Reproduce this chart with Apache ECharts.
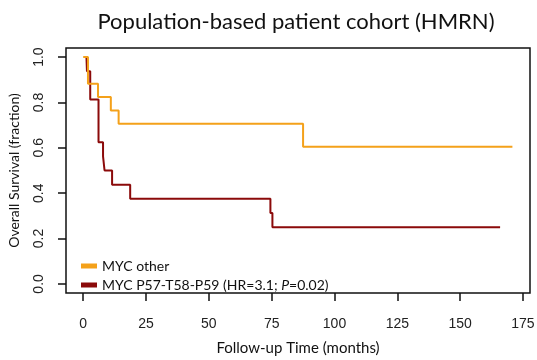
<!DOCTYPE html>
<html>
<head>
<meta charset="utf-8">
<script src="https://cdn.jsdelivr.net/npm/echarts@6/dist/echarts.min.js"></script>
<style>html,body{margin:0;padding:0;background:#fff;}#c{width:537px;height:360px;}</style>
</head>
<body>
<div id="c"></div>
<script>
var titleText = 'Population-based patient cohort (HMRN)';
var xName = 'Follow-up Time (months)';
var yName = 'Overall Survival (fraction)';
var xTicks = [0, 25, 50, 75, 100, 125, 150, 175];
var yTicks = [0, 0.2, 0.4, 0.6, 0.8, 1.0];

var otherTimes = [0, 1.9, 5.9, 11.0, 14.1, 87.5, 170.8];
var otherSurv  = [1.0, 0.882, 0.824, 0.765, 0.706, 0.605, 0.605];

var mutTimes = [1.3, 1.5, 2.8, 6.1, 7.9, 8.5, 11.5, 18.7, 74.5, 75.3, 165.9];
var mutSurv  = [1.0, 0.9375, 0.8125, 0.625, 0.5625, 0.5, 0.4375, 0.375, 0.3125, 0.25, 0.25];

var otherName = 'MYC other';
var mutName = 'MYC P57-T58-P59';

function pairs(t, v) { return t.map(function (x, i) { return [x, v[i]]; }); }

var chart = echarts.init(document.getElementById('c'), null, { renderer: 'canvas' });
var fontAx = '"Liberation Sans", Arial, sans-serif';
var fontTx = 'Lato, "Open Sans", sans-serif';
chart.setOption({
  animation: false,
  backgroundColor: '#fff',
  title: {
    text: titleText, left: 291, top: 6, textAlign: 'center',
    textStyle: { fontFamily: fontTx, fontSize: 22, fontWeight: 'normal', color: '#111' }
  },
  grid: { left: 66, right: 7, top: 48, bottom: 67, show: true, borderColor: '#111', borderWidth: 1.5,
          backgroundColor: 'transparent', containLabel: false, outerBoundsMode: 'none' },
  legend: {
    orient: 'vertical', left: 76, top: 254, itemWidth: 16, itemHeight: 5, itemGap: 5,
    icon: 'rect',
    data: [otherName, mutName],
    formatter: function (n) {
      return n === mutName ? '{n|' + n + ' (HR=3.1; }{i|P}{n|=0.02)}' : '{n|' + n + '}';
    },
    textStyle: {
      fontFamily: fontTx, fontSize: 14, color: '#111',
      rich: {
        n: { fontFamily: fontTx, fontSize: 14, color: '#111' },
        i: { fontFamily: fontTx, fontSize: 14, fontStyle: 'italic', color: '#111' }
      }
    }
  },
  xAxis: {
    type: 'value', min: -6.84, max: 177.8,
    name: xName, nameLocation: 'middle', nameGap: 48,
    nameTextStyle: { fontFamily: fontTx, fontSize: 15, color: '#111' },
    axisLine: { show: false, onZero: false },
    splitLine: { show: false },
    axisTick: { show: true, inside: false, length: 8, customValues: xTicks, lineStyle: { color: '#111', width: 1.5 } },
    axisLabel: { customValues: xTicks, margin: 24, fontFamily: fontAx, fontSize: 14, color: '#222' }
  },
  yAxis: {
    type: 'value', min: -0.04, max: 1.04,
    name: yName, nameLocation: 'middle', nameGap: 45, nameRotate: 90,
    nameTextStyle: { fontFamily: fontTx, fontSize: 14, color: '#111' },
    axisLine: { show: false, onZero: false },
    splitLine: { show: false },
    axisTick: { show: true, inside: false, length: 8, customValues: yTicks, lineStyle: { color: '#111', width: 1.5 } },
    axisLabel: {
      customValues: yTicks, rotate: 90, margin: 20, fontFamily: fontAx, fontSize: 14, color: '#222',
      formatter: function (v) { return v.toFixed(1); }
    }
  },
  series: [
    {
      name: mutName, type: 'line', step: 'end', showSymbol: false, symbol: 'none',
      data: pairs(mutTimes, mutSurv), color: '#8B0A0A',
      lineStyle: { color: '#8B0A0A', width: 2 }
    },
    {
      name: otherName, type: 'line', step: 'end', showSymbol: false, symbol: 'none',
      data: pairs(otherTimes, otherSurv), color: '#F4A11A',
      lineStyle: { color: '#F4A11A', width: 2 }
    }
  ]
});
</script>
</body>
</html>
